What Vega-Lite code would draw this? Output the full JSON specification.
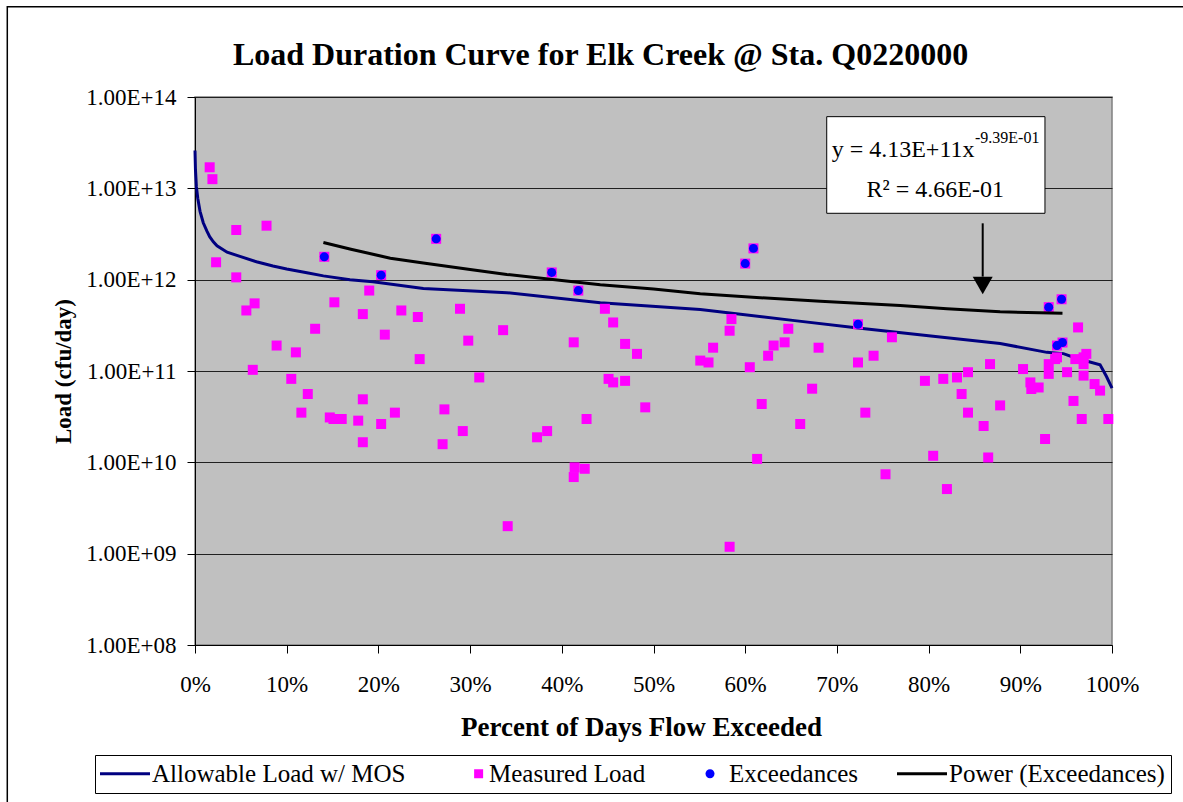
{
  "$schema": "https://vega.github.io/schema/vega-lite/v6.json",
  "width": 917,
  "height": 548,
  "autosize": {"type": "none"},
  "padding": {"left": 195, "top": 97, "right": 71, "bottom": 157},
  "background": "white",
  "title": {
    "text": "Load Duration Curve for Elk Creek @ Sta. Q0220000",
    "font": "Liberation Serif",
    "fontSize": 32,
    "fontWeight": "bold",
    "color": "black",
    "anchor": "middle",
    "frame": "group",
    "dx": -53,
    "dy": 123,
    "offset": 32,
    "baseline": "alphabetic"
  },
  "config": {
    "font": "Liberation Serif",
    "view": {"fill": "#C0C0C0", "stroke": "#808080", "strokeWidth": 1.5},
    "axis": {
      "domainColor": "black",
      "tickColor": "black",
      "tickSize": 8,
      "labelColor": "black",
      "titleColor": "black",
      "labelFont": "Liberation Serif",
      "titleFont": "Liberation Serif",
      "titleFontWeight": "bold"
    }
  },
  "data": {
    "values": [
      {"s": "A", "pct": 0, "load": 2.6e13},
      {"s": "A", "pct": 0.05, "load": 1.6e13},
      {"s": "A", "pct": 0.15, "load": 1.05e13},
      {"s": "A", "pct": 0.3, "load": 7.8e12},
      {"s": "A", "pct": 0.55, "load": 5.6e12},
      {"s": "A", "pct": 0.9, "load": 4.2e12},
      {"s": "A", "pct": 1.3, "load": 3.4e12},
      {"s": "A", "pct": 1.6, "load": 2.95e12},
      {"s": "A", "pct": 2.0, "load": 2.6e12},
      {"s": "A", "pct": 2.4, "load": 2.35e12},
      {"s": "A", "pct": 3.5, "load": 2.0e12},
      {"s": "A", "pct": 4.9, "load": 1.8e12},
      {"s": "A", "pct": 6.7, "load": 1.57e12},
      {"s": "A", "pct": 8.5, "load": 1.41e12},
      {"s": "A", "pct": 10, "load": 1.31e12},
      {"s": "A", "pct": 12.2, "load": 1.19e12},
      {"s": "A", "pct": 14, "load": 1.1e12},
      {"s": "A", "pct": 16.9, "load": 1.0e12},
      {"s": "A", "pct": 19.4, "load": 9.5e11},
      {"s": "A", "pct": 24.9, "load": 8.0e11},
      {"s": "A", "pct": 30.3, "load": 7.5e11},
      {"s": "A", "pct": 34, "load": 7.2e11},
      {"s": "A", "pct": 44.2, "load": 5.6e11},
      {"s": "A", "pct": 55.1, "load": 4.7e11},
      {"s": "A", "pct": 65.4, "load": 3.56e11},
      {"s": "A", "pct": 72.3, "load": 2.95e11},
      {"s": "A", "pct": 80.5, "load": 2.4e11},
      {"s": "A", "pct": 87.8, "load": 2.0e11},
      {"s": "A", "pct": 92.9, "load": 1.6e11},
      {"s": "A", "pct": 94.7, "load": 1.55e11},
      {"s": "A", "pct": 96.1, "load": 1.38e11},
      {"s": "A", "pct": 98.7, "load": 1.17e11},
      {"s": "A", "pct": 99.4, "load": 8.7e10},
      {"s": "A", "pct": 100, "load": 6.5e10},

      {"s": "M", "pct": 1.6, "load": 1.7e13},
      {"s": "M", "pct": 1.9, "load": 1.26e13},
      {"s": "M", "pct": 2.3, "load": 1.55e12},
      {"s": "M", "pct": 4.5, "load": 3.5e12},
      {"s": "M", "pct": 4.5, "load": 1.06e12},
      {"s": "M", "pct": 7.8, "load": 3.9e12},
      {"s": "M", "pct": 5.6, "load": 4.6e11},
      {"s": "M", "pct": 6.5, "load": 5.5e11},
      {"s": "M", "pct": 6.3, "load": 1.03e11},
      {"s": "M", "pct": 8.9, "load": 1.9e11},
      {"s": "M", "pct": 10.5, "load": 8.2e10},
      {"s": "M", "pct": 11.0, "load": 1.6e11},
      {"s": "M", "pct": 11.6, "load": 3.5e10},
      {"s": "M", "pct": 12.3, "load": 5.6e10},
      {"s": "M", "pct": 13.1, "load": 2.9e11},
      {"s": "M", "pct": 15.2, "load": 5.65e11},
      {"s": "M", "pct": 14.7, "load": 3.1e10},
      {"s": "M", "pct": 15.1, "load": 2.98e10},
      {"s": "M", "pct": 16.0, "load": 2.98e10},
      {"s": "M", "pct": 17.8, "load": 2.86e10},
      {"s": "M", "pct": 18.3, "load": 4.9e10},
      {"s": "M", "pct": 18.3, "load": 1.66e10},
      {"s": "M", "pct": 18.3, "load": 4.2e11},
      {"s": "M", "pct": 19.0, "load": 7.6e11},
      {"s": "M", "pct": 20.3, "load": 2.63e10},
      {"s": "M", "pct": 20.7, "load": 2.5e11},
      {"s": "M", "pct": 21.8, "load": 3.5e10},
      {"s": "M", "pct": 22.5, "load": 4.6e11},
      {"s": "M", "pct": 24.3, "load": 3.9e11},
      {"s": "M", "pct": 24.5, "load": 1.35e11},
      {"s": "M", "pct": 27.2, "load": 3.8e10},
      {"s": "M", "pct": 27.0, "load": 1.58e10},
      {"s": "M", "pct": 28.9, "load": 4.8e11},
      {"s": "M", "pct": 29.2, "load": 2.2e10},
      {"s": "M", "pct": 29.8, "load": 2.15e11},
      {"s": "M", "pct": 31.0, "load": 8.5e10},
      {"s": "M", "pct": 33.6, "load": 2.8e11},
      {"s": "M", "pct": 34.1, "load": 2.0e9},
      {"s": "M", "pct": 37.3, "load": 1.88e10},
      {"s": "M", "pct": 38.4, "load": 2.2e10},
      {"s": "M", "pct": 41.3, "load": 2.06e11},
      {"s": "M", "pct": 41.3, "load": 6.9e9},
      {"s": "M", "pct": 41.4, "load": 8.8e9},
      {"s": "M", "pct": 42.5, "load": 8.5e9},
      {"s": "M", "pct": 42.7, "load": 2.98e10},
      {"s": "M", "pct": 44.7, "load": 4.8e11},
      {"s": "M", "pct": 45.1, "load": 8.2e10},
      {"s": "M", "pct": 45.6, "load": 7.5e10},
      {"s": "M", "pct": 45.6, "load": 3.4e11},
      {"s": "M", "pct": 46.9, "load": 1.98e11},
      {"s": "M", "pct": 46.9, "load": 7.8e10},
      {"s": "M", "pct": 48.2, "load": 1.54e11},
      {"s": "M", "pct": 49.1, "load": 4.0e10},
      {"s": "M", "pct": 55.1, "load": 1.3e11},
      {"s": "M", "pct": 56.0, "load": 1.24e11},
      {"s": "M", "pct": 56.5, "load": 1.8e11},
      {"s": "M", "pct": 58.3, "load": 1.19e9},
      {"s": "M", "pct": 58.3, "load": 2.76e11},
      {"s": "M", "pct": 58.5, "load": 3.7e11},
      {"s": "M", "pct": 60.5, "load": 1.1e11},
      {"s": "M", "pct": 61.3, "load": 1.09e10},
      {"s": "M", "pct": 61.8, "load": 4.35e10},
      {"s": "M", "pct": 62.5, "load": 1.47e11},
      {"s": "M", "pct": 63.1, "load": 1.9e11},
      {"s": "M", "pct": 64.3, "load": 2.06e11},
      {"s": "M", "pct": 64.7, "load": 2.9e11},
      {"s": "M", "pct": 66.0, "load": 2.63e10},
      {"s": "M", "pct": 67.3, "load": 6.4e10},
      {"s": "M", "pct": 68.0, "load": 1.8e11},
      {"s": "M", "pct": 72.3, "load": 1.24e11},
      {"s": "M", "pct": 73.1, "load": 3.5e10},
      {"s": "M", "pct": 74.0, "load": 1.47e11},
      {"s": "M", "pct": 75.3, "load": 7.4e9},
      {"s": "M", "pct": 76.0, "load": 2.34e11},
      {"s": "M", "pct": 79.6, "load": 7.8e10},
      {"s": "M", "pct": 80.5, "load": 1.18e10},
      {"s": "M", "pct": 81.6, "load": 8.2e10},
      {"s": "M", "pct": 82.0, "load": 5.1e9},
      {"s": "M", "pct": 83.1, "load": 8.5e10},
      {"s": "M", "pct": 83.6, "load": 5.6e10},
      {"s": "M", "pct": 84.3, "load": 9.7e10},
      {"s": "M", "pct": 84.3, "load": 3.5e10},
      {"s": "M", "pct": 86.0, "load": 2.5e10},
      {"s": "M", "pct": 86.5, "load": 1.13e10},
      {"s": "M", "pct": 86.7, "load": 1.19e11},
      {"s": "M", "pct": 87.8, "load": 4.2e10},
      {"s": "M", "pct": 90.3, "load": 1.05e11},
      {"s": "M", "pct": 91.1, "load": 7.5e10},
      {"s": "M", "pct": 91.2, "load": 6.35e10},
      {"s": "M", "pct": 92.0, "load": 6.6e10},
      {"s": "M", "pct": 92.7, "load": 1.8e10},
      {"s": "M", "pct": 93.1, "load": 1.19e11},
      {"s": "M", "pct": 93.1, "load": 9.3e10},
      {"s": "M", "pct": 94.0, "load": 1.41e11},
      {"s": "M", "pct": 93.8, "load": 1.35e11},
      {"s": "M", "pct": 95.1, "load": 9.7e10},
      {"s": "M", "pct": 95.8, "load": 4.7e10},
      {"s": "M", "pct": 96.3, "load": 3.0e11},
      {"s": "M", "pct": 96.0, "load": 1.35e11},
      {"s": "M", "pct": 96.9, "load": 1.41e11},
      {"s": "M", "pct": 97.2, "load": 1.54e11},
      {"s": "M", "pct": 96.9, "load": 1.19e11},
      {"s": "M", "pct": 96.9, "load": 8.9e10},
      {"s": "M", "pct": 96.7, "load": 2.98e10},
      {"s": "M", "pct": 98.1, "load": 7.2e10},
      {"s": "M", "pct": 98.7, "load": 6.1e10},
      {"s": "M", "pct": 99.6, "load": 2.98e10},
      {"s": "M", "pct": 14.1, "load": 1.78e12},
      {"s": "M", "pct": 20.3, "load": 1.12e12},
      {"s": "M", "pct": 26.3, "load": 2.8e12},
      {"s": "M", "pct": 38.9, "load": 1.2e12},
      {"s": "M", "pct": 41.8, "load": 7.6e11},
      {"s": "M", "pct": 60.0, "load": 1.5e12},
      {"s": "M", "pct": 60.9, "load": 2.2e12},
      {"s": "M", "pct": 72.3, "load": 3.25e11},
      {"s": "M", "pct": 93.1, "load": 5.0e11},
      {"s": "M", "pct": 94.5, "load": 6.1e11},
      {"s": "M", "pct": 94.0, "load": 1.9e11},
      {"s": "M", "pct": 94.6, "load": 2.05e11},

      {"s": "E", "pct": 14.1, "load": 1.78e12},
      {"s": "E", "pct": 20.3, "load": 1.12e12},
      {"s": "E", "pct": 26.3, "load": 2.8e12},
      {"s": "E", "pct": 38.9, "load": 1.2e12},
      {"s": "E", "pct": 41.8, "load": 7.6e11},
      {"s": "E", "pct": 60.0, "load": 1.5e12},
      {"s": "E", "pct": 60.9, "load": 2.2e12},
      {"s": "E", "pct": 72.3, "load": 3.25e11},
      {"s": "E", "pct": 93.1, "load": 5.0e11},
      {"s": "E", "pct": 94.5, "load": 6.1e11},
      {"s": "E", "pct": 94.0, "load": 1.9e11},
      {"s": "E", "pct": 94.6, "load": 2.05e11},

      {"s": "P", "pct": 14.0, "load": 2.55e12},
      {"s": "P", "pct": 17.0, "load": 2.15e12},
      {"s": "P", "pct": 21.3, "load": 1.72e12},
      {"s": "P", "pct": 24.9, "load": 1.52e12},
      {"s": "P", "pct": 30.0, "load": 1.29e12},
      {"s": "P", "pct": 34.0, "load": 1.14e12},
      {"s": "P", "pct": 40.0, "load": 9.8e11},
      {"s": "P", "pct": 44.2, "load": 8.8e11},
      {"s": "P", "pct": 50.0, "load": 7.9e11},
      {"s": "P", "pct": 55.1, "load": 7.0e11},
      {"s": "P", "pct": 60.0, "load": 6.5e11},
      {"s": "P", "pct": 68.2, "load": 5.8e11},
      {"s": "P", "pct": 76.9, "load": 5.2e11},
      {"s": "P", "pct": 82.0, "load": 4.8e11},
      {"s": "P", "pct": 87.8, "load": 4.45e11},
      {"s": "P", "pct": 94.6, "load": 4.3e11}
    ]
  },
  "layer": [
    {
      "data": {"values": [{}]},
      "mark": {"type": "rect", "filled": false, "stroke": "black", "strokeWidth": 1.5, "clip": false},
      "encoding": {
        "x": {"datum": -20.47, "type": "quantitative", "title": "Percent of Days Flow Exceeded"},
        "x2": {"datum": 130},
        "y": {"datum": 9.75e14, "type": "quantitative", "title": "Load (cfu/day)"},
        "y2": {"datum": 1e5}
      }
    },
    {
      "transform": [{"filter": "datum.s == 'A'"}],
      "mark": {"type": "line", "strokeWidth": 3, "interpolate": "linear"},
      "encoding": {
        "x": {
          "field": "pct", "type": "quantitative", "title": "Percent of Days Flow Exceeded",
          "scale": {"domain": [0, 100], "nice": false, "zero": false},
          "axis": {
            "values": [0, 10, 20, 30, 40, 50, 60, 70, 80, 90, 100],
            "labelExpr": "datum.value + '%'",
            "grid": false,
            "labelFontSize": 23,
            "labelPadding": 20,
            "labelFlush": false,
            "titleFontSize": 27,
            "titlePadding": 18,
            "titleX": 446
          }
        },
        "y": {
          "field": "load", "type": "quantitative", "title": "Load (cfu/day)",
          "scale": {"type": "log", "domain": [1e8, 1e14], "nice": false},
          "axis": {
            "values": [1e8, 1e9, 1e10, 1e11, 1e12, 1e13, 1e14],
            "labelExpr": "'1.00E+' + (round(log(datum.value)/LN10) < 10 ? '0' : '') + round(log(datum.value)/LN10)",
            "grid": true,
            "gridColor": "#202020",
            "gridOpacity": 1,
            "gridWidth": 1,
            "labelFontSize": 23,
            "labelPadding": 11,
            "titleFontSize": 23,
            "titlePadding": 10
          }
        },
        "color": {
          "field": "s", "type": "nominal",
          "scale": {"domain": ["A", "M", "E", "P"], "range": ["#000080", "#FF00FF", "#0000FF", "#000000"]},
          "legend": {
            "orient": "none",
            "legendX": -100,
            "legendY": 658,
            "direction": "horizontal",
            "title": null,
            "labelFont": "Liberation Serif",
            "labelFontSize": 25,
            "labelColor": "black",
            "labelLimit": 500,
            "symbolSize": 2025,
            "labelOffset": 26,
            "columnPadding": 32,
            "padding": 6,
            "strokeColor": "black",
            "fillColor": "white",
            "labelExpr": "datum.label == 'A' ? 'Allowable Load w/ MOS' : datum.label == 'M' ? 'Measured Load' : datum.label == 'E' ? 'Exceedances' : 'Power (Exceedances)'",
            "encode": {
              "symbols": {
                "update": {
                  "shape": {"signal": "datum.value == 'M' ? 'M1.05,-0.2H1.45V0.2H1.05Z' : datum.value == 'E' ? 'M1.067,0A0.2,0.2,0,1,1,0.667,0A0.2,0.2,0,1,1,1.067,0Z' : 'M-0.6,0H1.622'"},
                  "size": {"value": 2025},
                  "fill": {"signal": "datum.value == 'M' || datum.value == 'E' ? scale('color', datum.value) : 'transparent'"},
                  "stroke": {"signal": "scale('color', datum.value)"},
                  "strokeWidth": {"signal": "datum.value == 'M' || datum.value == 'E' ? 0 : 3"},
                  "opacity": {"value": 1}
                }
              }
            }
          }
        }
      }
    },
    {
      "transform": [{"filter": "datum.s == 'M'"}],
      "mark": {"type": "point", "shape": "square", "filled": true, "size": 100, "opacity": 1},
      "encoding": {
        "x": {"field": "pct", "type": "quantitative", "title": "Percent of Days Flow Exceeded"},
        "y": {"field": "load", "type": "quantitative", "title": "Load (cfu/day)"},
        "color": {"field": "s", "type": "nominal"}
      }
    },
    {
      "transform": [{"filter": "datum.s == 'E'"}],
      "mark": {"type": "point", "shape": "circle", "filled": true, "size": 80, "opacity": 1},
      "encoding": {
        "x": {"field": "pct", "type": "quantitative", "title": "Percent of Days Flow Exceeded"},
        "y": {"field": "load", "type": "quantitative", "title": "Load (cfu/day)"},
        "color": {"field": "s", "type": "nominal"}
      }
    },
    {
      "transform": [{"filter": "datum.s == 'P'"}],
      "mark": {"type": "line", "strokeWidth": 3},
      "encoding": {
        "x": {"field": "pct", "type": "quantitative", "title": "Percent of Days Flow Exceeded"},
        "y": {"field": "load", "type": "quantitative", "title": "Load (cfu/day)"},
        "color": {"field": "s", "type": "nominal"}
      }
    },
    {
      "data": {"values": [{}]},
      "mark": {"type": "rect", "fill": "white", "stroke": "black", "strokeWidth": 1},
      "encoding": {
        "x": {"datum": 68.89, "type": "quantitative", "title": "Percent of Days Flow Exceeded"},
        "x2": {"datum": 92.69},
        "y": {"datum": 6.09e13, "type": "quantitative", "title": "Load (cfu/day)"},
        "y2": {"datum": 5.33e12}
      }
    },
    {
      "data": {"values": [{}]},
      "mark": {"type": "text", "text": "y = 4.13E+11x", "font": "Liberation Serif", "fontSize": 24, "align": "left", "baseline": "alphabetic", "color": "black"},
      "encoding": {
        "x": {"datum": 69.43, "type": "quantitative", "title": "Percent of Days Flow Exceeded"},
        "y": {"datum": 2.2e13, "type": "quantitative", "title": "Load (cfu/day)"}
      }
    },
    {
      "data": {"values": [{}]},
      "mark": {"type": "text", "text": "-9.39E-01", "font": "Liberation Serif", "fontSize": 16, "align": "left", "baseline": "alphabetic", "color": "black"},
      "encoding": {
        "x": {"datum": 85.06, "type": "quantitative", "title": "Percent of Days Flow Exceeded"},
        "y": {"datum": 3.14e13, "type": "quantitative", "title": "Load (cfu/day)"}
      }
    },
    {
      "data": {"values": [{}]},
      "mark": {"type": "text", "text": "R² = 4.66E-01", "font": "Liberation Serif", "fontSize": 24, "align": "center", "baseline": "alphabetic", "color": "black"},
      "encoding": {
        "x": {"datum": 80.73, "type": "quantitative", "title": "Percent of Days Flow Exceeded"},
        "y": {"datum": 7.98e12, "type": "quantitative", "title": "Load (cfu/day)"}
      }
    },
    {
      "data": {"values": [{}]},
      "mark": {"type": "rule", "stroke": "black", "strokeWidth": 2},
      "encoding": {
        "x": {"datum": 85.9, "type": "quantitative", "title": "Percent of Days Flow Exceeded"},
        "y": {"datum": 4.14e12, "type": "quantitative", "title": "Load (cfu/day)"},
        "y2": {"datum": 1.08e12}
      }
    },
    {
      "data": {"values": [{}]},
      "mark": {"type": "point", "shape": "triangle-down", "filled": true, "size": 400, "fill": "black", "opacity": 1},
      "encoding": {
        "x": {"datum": 85.9, "type": "quantitative", "title": "Percent of Days Flow Exceeded"},
        "y": {"datum": 8.63e11, "type": "quantitative", "title": "Load (cfu/day)"}
      }
    }
  ]
}
